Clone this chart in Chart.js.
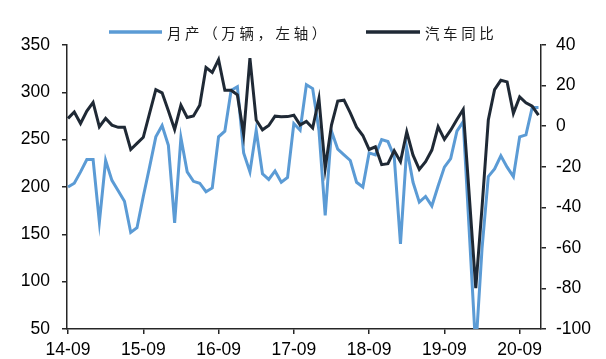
<!DOCTYPE html>
<html>
<head>
<meta charset="utf-8">
<script src="https://cdn.jsdelivr.net/npm/chart.js@4.4.1/dist/chart.umd.min.js"></script>
<style>
  html, body { margin: 0; padding: 0; background: #ffffff; }
  #wrap { width: 606px; height: 359px; }
</style>
</head>
<body>
<div id="wrap"><canvas id="c" width="606" height="359"></canvas></div>
<script>
// Monthly categories, 2014-09 .. 2020-12
const months = [
  '14-09','14-10','14-11','14-12',
  '15-01','15-02','15-03','15-04','15-05','15-06','15-07','15-08','15-09','15-10','15-11','15-12',
  '16-01','16-02','16-03','16-04','16-05','16-06','16-07','16-08','16-09','16-10','16-11','16-12',
  '17-01','17-02','17-03','17-04','17-05','17-06','17-07','17-08','17-09','17-10','17-11','17-12',
  '18-01','18-02','18-03','18-04','18-05','18-06','18-07','18-08','18-09','18-10','18-11','18-12',
  '19-01','19-02','19-03','19-04','19-05','19-06','19-07','19-08','19-09','19-10','19-11','19-12',
  '20-01','20-02','20-03','20-04','20-05','20-06','20-07','20-08','20-09','20-10','20-11','20-12'
];

// Axis tick labels (one per year)
const tickLabels = ['14-09','15-09','16-09','17-09','18-09','19-09','20-09'];

// Monthly vehicle output, 10k units (left axis); Jan 2020 reported jointly with Feb
const output = [
  200, 204, 216, 229,
  229, 163, 228, 207, 196, 185, 152, 157, 190, 221, 253, 265,
  244, 162, 252, 216, 206, 204, 195, 199, 253, 259, 302, 306,
  236, 216, 260, 214, 208, 217, 205, 210, 267, 260, 308, 304,
  260, 170, 259, 240, 234, 228, 205, 200, 236, 234, 250, 248,
  232, 140, 241, 205, 184, 190, 180, 201, 221, 230, 259, 269,
  null, 28.5, 135, 211, 219, 233, 221, 211, 253, 255, 284, 284
];

// Year-on-year change of vehicle output, % (right axis)
const yoy = [
  3.8, 7.0, 1.3, 7.4,
  11.7, -0.3, 3.8, 0.5, -0.6, -0.6, -11.5, -8.5, -5.5, 6.3, 18.0, 16.4,
  7.6, -1.6, 10.3, 4.3, 5.0, 10.3, 28.9, 26.5, 32.8, 17.7, 17.7, 15.4,
  -4.0, 33.5, 3.0, -1.8, 0.3, 4.9, 4.6, 4.7, 5.4, 0.6, 2.3, -0.9,
  13.6, -20.8, 0.5, 12.4, 12.8, 6.5, -0.5, -4.6, -11.5, -10.2, -19.0, -18.5,
  -12.1, -17.5, -2.8, -14.3, -21.3, -17.5, -11.8, -0.3, -6.5, -2.0, 3.3, 8.2,
  null, -79.8, -40.0, 3.0, 18.0, 22.6, 21.8, 6.3, 14.4, 11.5, 9.8, 5.4
];

const seriesNames = ['月产（万辆，左轴）', '汽车同比'];
const BLUE = '#5b9bd5';
const DARK = '#1f2935';
const AXIS = '#262626';
const NUM_FONT = { family: '"Liberation Sans", Arial, sans-serif', size: 17.5 };

const toPoints = arr => arr.map((v, i) => ({ x: i, y: v }));

// Legend drawn as a line sample followed by its name, spaced like the layout above the plot
const seriesKey = {
  id: 'seriesKey',
  afterDraw(chart, args, opts) {
    const ctx = chart.ctx;
    ctx.save();
    ctx.font = opts.font;
    ctx.textBaseline = 'middle';
    ctx.textAlign = 'left';
    if ('letterSpacing' in ctx) ctx.letterSpacing = opts.letterSpacing;
    opts.items.forEach(item => {
      const ds = chart.data.datasets[item.dataset];
      ctx.strokeStyle = ds.borderColor;
      ctx.lineWidth = opts.lineWidth;
      ctx.beginPath();
      ctx.moveTo(item.x0, opts.y);
      ctx.lineTo(item.x1, opts.y);
      ctx.stroke();
      ctx.fillStyle = opts.color;
      ctx.fillText(ds.label, item.x1 + opts.gap, opts.y + 1);
    });
    ctx.restore();
  }
};

new Chart(document.getElementById('c'), {
  type: 'line',
  data: {
    datasets: [
      {
        label: seriesNames[0],
        data: toPoints(output),
        yAxisID: 'y',
        borderColor: BLUE,
        backgroundColor: BLUE,
        borderWidth: 3,
        pointRadius: 0,
        tension: 0,
        spanGaps: true,
        order: 2
      },
      {
        label: seriesNames[1],
        data: toPoints(yoy),
        yAxisID: 'y1',
        borderColor: DARK,
        backgroundColor: DARK,
        borderWidth: 3,
        pointRadius: 0,
        tension: 0,
        spanGaps: true,
        order: 1
      }
    ]
  },
  options: {
    responsive: false,
    animation: false,
    devicePixelRatio: 1,
    layout: { padding: { top: 45, left: 0, right: 0, bottom: 0 } },
    plugins: {
      legend: { display: false },
      tooltip: { enabled: false },
      seriesKey: {
        y: 32,
        font: '14.5px "Noto Sans CJK SC", sans-serif',
        letterSpacing: '3.6px',
        color: '#1a1a1a',
        lineWidth: 3.5,
        gap: 5,
        items: [
          { dataset: 0, x0: 109, x1: 162 },
          { dataset: 1, x0: 366, x1: 420 }
        ]
      }
    },
    scales: {
      x: {
        type: 'linear',
        min: -0.16,
        max: 75.4,
        afterBuildTicks: s => { s.ticks = tickLabels.map(t => ({ value: months.indexOf(t) })); },
        afterFit: s => { s.height = 30; },
        ticks: {
          callback: v => months[Math.round(v)],
          font: NUM_FONT,
          color: '#000000',
          padding: 6,
          maxRotation: 0,
          autoSkip: false
        },
        grid: { drawOnChartArea: false, drawTicks: true, tickLength: 5, color: AXIS, lineWidth: 1.5 },
        border: { display: true, color: AXIS, width: 1.5 }
      },
      y: {
        position: 'left',
        min: 50,
        max: 350,
        afterFit: s => { s.width = 67; },
        ticks: { stepSize: 50, font: NUM_FONT, color: '#000000', padding: 12 },
        grid: { drawOnChartArea: false, drawTicks: true, tickLength: 5, color: AXIS, lineWidth: 1.5 },
        border: { display: true, color: AXIS, width: 1.5 }
      },
      y1: {
        position: 'right',
        min: -100,
        max: 40,
        afterFit: s => { s.width = 65; },
        ticks: { stepSize: 20, font: NUM_FONT, color: '#000000', padding: 10 },
        grid: { drawOnChartArea: false, drawTicks: true, tickLength: 5, color: AXIS, lineWidth: 1.5 },
        border: { display: true, color: AXIS, width: 1.5 }
      }
    }
  },
  plugins: [seriesKey]
});
</script>
</body>
</html>
